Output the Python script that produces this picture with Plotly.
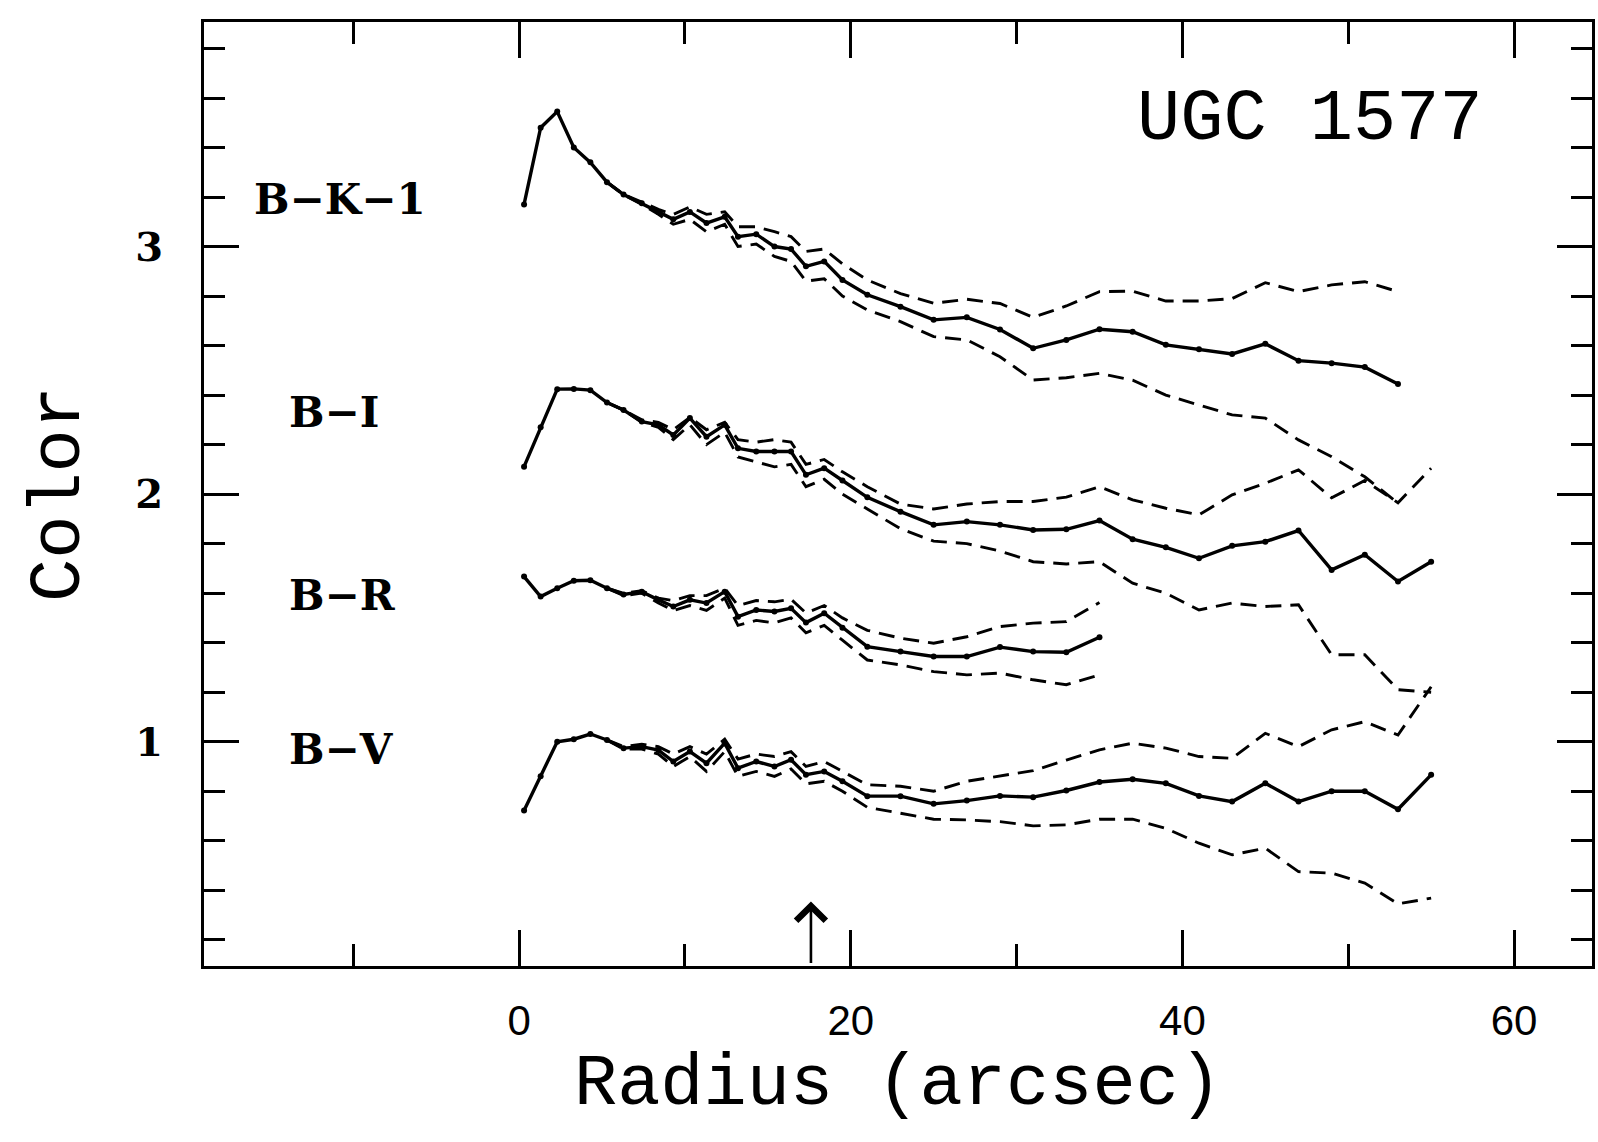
import plotly.graph_objects as go

# ---------------- data ----------------
radius = [0.3, 1.3, 2.3, 3.3, 4.3, 5.3, 6.3, 7.4, 8.4, 9.3, 10.3, 11.3, 12.4, 13.2,
          14.3, 15.4, 16.4, 17.3, 18.4, 19.5, 21, 23, 25, 27, 29, 31, 33, 35, 37,
          39, 41, 43, 45, 47, 49, 51, 53, 55]

bk1 = [3.17, 3.48, 3.545, 3.40, 3.34, 3.26, 3.21, 3.175, 3.14, 3.11, 3.14, 3.095, 3.12, 3.04,
       3.05, 3.00, 2.99, 2.92, 2.94, 2.865, 2.805, 2.757, 2.704, 2.714, 2.665, 2.589, 2.623, 2.666, 2.656,
       2.603, 2.585, 2.566, 2.607, 2.539, 2.529, 2.513, 2.445, None]
bk1_hi = [None, None, None, None, None, 3.26, 3.21, 3.18, 3.15, 3.13, 3.16, 3.13, 3.14, 3.08,
          3.08, 3.06, 3.04, 2.98, 2.99, 2.93, 2.865, 2.81, 2.771, 2.787, 2.77, 2.714, 2.76, 2.818, 2.82,
          2.78, 2.78, 2.79, 2.854, 2.818, 2.845, 2.858, 2.818, None]
bk1_lo = [None, None, None, None, None, 3.26, 3.21, 3.17, 3.13, 3.09, 3.11, 3.06, 3.09, 3.00,
          3.01, 2.96, 2.94, 2.86, 2.87, 2.80, 2.744, 2.697, 2.636, 2.623, 2.555, 2.461, 2.47, 2.488, 2.46,
          2.40, 2.36, 2.32, 2.307, 2.219, 2.151, 2.07, 1.963, None]

bi = [2.111, 2.27, 2.424, 2.425, 2.42, 2.37, 2.34, 2.293, 2.28, 2.239, 2.307, 2.232, 2.28, 2.185,
      2.172, 2.172, 2.172, 2.078, 2.105, 2.055, 1.987, 1.929, 1.876, 1.889, 1.876, 1.855, 1.858, 1.893, 1.818,
      1.785, 1.741, 1.791, 1.808, 1.853, 1.694, 1.755, 1.647, 1.727]
bi_hi = [None, None, None, None, None, 2.37, 2.34, 2.30, 2.29, 2.26, 2.31, 2.26, 2.29, 2.22,
         2.21, 2.22, 2.21, 2.12, 2.14, 2.09, 2.03, 1.96, 1.94, 1.96, 1.97, 1.97, 1.988, 2.03, 1.977,
         1.943, 1.916, 1.997, 2.044, 2.098, 1.985, 2.055, 1.965, 2.105]
bi_lo = [None, None, None, None, None, 2.37, 2.34, 2.29, 2.27, 2.22, 2.28, 2.20, 2.25, 2.15,
         2.13, 2.11, 2.12, 2.03, 2.06, 2.00, 1.94, 1.86, 1.81, 1.80, 1.77, 1.727, 1.718, 1.727, 1.64,
         1.60, 1.532, 1.56, 1.546, 1.553, 1.351, 1.351, 1.21, 1.20]

br = [1.667, 1.586, 1.62, 1.65, 1.652, 1.62, 1.595, 1.606, 1.573, 1.546, 1.573, 1.56, 1.606, 1.505,
      1.532, 1.526, 1.539, 1.481, 1.519, 1.46, 1.384, 1.364, 1.344, 1.344, 1.382, 1.364, 1.361, 1.422]
br_hi = [None, None, None, None, None, 1.62, 1.60, 1.61, 1.58, 1.57, 1.59, 1.59, 1.62, 1.55,
         1.57, 1.565, 1.575, 1.52, 1.55, 1.50, 1.45, 1.418, 1.398, 1.424, 1.465, 1.479, 1.485, 1.562]
br_lo = [None, None, None, None, None, 1.62, 1.59, 1.60, 1.56, 1.53, 1.55, 1.53, 1.58, 1.47,
         1.49, 1.48, 1.50, 1.44, 1.47, 1.41, 1.33, 1.31, 1.283, 1.27, 1.277, 1.25, 1.23, 1.27]

bv = [0.722, 0.86, 1.0, 1.01, 1.031, 1.007, 0.974, 0.98, 0.966, 0.92, 0.96, 0.913, 0.994, 0.893,
      0.92, 0.90, 0.927, 0.867, 0.88, 0.84, 0.78, 0.78, 0.749, 0.762, 0.781, 0.776, 0.803, 0.837, 0.848,
      0.832, 0.781, 0.758, 0.832, 0.758, 0.80, 0.80, 0.727, 0.866]
bv_hi = [None, None, None, None, None, 1.007, 0.98, 0.99, 0.98, 0.95, 0.98, 0.95, 1.01, 0.93,
         0.95, 0.94, 0.96, 0.90, 0.92, 0.88, 0.826, 0.82, 0.80, 0.84, 0.862, 0.883, 0.926, 0.967, 0.994,
         0.974, 0.94, 0.933, 1.034, 0.98, 1.048, 1.081, 1.027, 1.222]
bv_lo = [None, None, None, None, None, 1.007, 0.97, 0.97, 0.95, 0.90, 0.94, 0.88, 0.96, 0.86,
         0.88, 0.86, 0.89, 0.83, 0.84, 0.80, 0.735, 0.711, 0.687, 0.684, 0.677, 0.66, 0.664, 0.687, 0.687,
         0.65, 0.59, 0.543, 0.57, 0.475, 0.469, 0.429, 0.345, 0.368]

labels = ["B\u2212K\u22121", "B\u2212I", "B\u2212R", "B\u2212V"]
label_x = [-16.1, -14.0, -14.0, -14.0]
label_y = [3.19, 2.33, 1.59, 0.97]

title_text = "UGC 1577"
title_pos = (47.7, 3.51)
arrow_x = 17.6
arrow_y = (0.10, 0.355)

x_ticks = [0, 20, 40, 60]
y_ticks = [1, 2, 3]

# ---------------- figure ----------------
fig = go.Figure()
series = [(bk1, bk1_hi, bk1_lo), (bi, bi_hi, bi_lo), (br, br_hi, br_lo), (bv, bv_hi, bv_lo)]
for mid, hi, lo in series:
    n = len(mid)
    for band in (hi, lo):
        fig.add_trace(go.Scatter(x=radius[:n], y=band, mode="lines",
                                 line=dict(color="black", width=2.9, dash="16px,9px"),
                                 connectgaps=False, showlegend=False, hoverinfo="skip"))
    fig.add_trace(go.Scatter(x=radius[:n], y=mid, mode="lines+markers",
                             line=dict(color="black", width=3.4),
                             marker=dict(color="black", size=6),
                             showlegend=False))

for t, lx, ly in zip(labels, label_x, label_y):
    fig.add_annotation(x=lx, y=ly, text=t, showarrow=False, xanchor="left", yanchor="middle",
                       font=dict(family="DejaVu Serif", size=42, color="black", weight="bold"))

fig.add_annotation(x=title_pos[0], y=title_pos[1], text=title_text, showarrow=False,
                   xanchor="center", yanchor="middle",
                   font=dict(family="Liberation Mono", size=72, color="black"))

fig.add_annotation(x=arrow_x, y=arrow_y[1], ax=arrow_x, ay=arrow_y[0], axref="x", ayref="y",
                   xref="x", yref="y", text="", showarrow=True, arrowhead=4, arrowsize=2.2,
                   arrowwidth=2.6, arrowcolor="black")

axis_common = dict(showline=True, linecolor="black", linewidth=3, mirror="ticks",
                   ticks="inside", tickcolor="black", tickwidth=3, showgrid=False, zeroline=False)

fig.update_xaxes(range=[-19.0, 64.7], tickvals=x_ticks, ticklen=36,
                 tickfont=dict(family="Liberation Sans", size=42, color="black"),
                 minor=dict(dtick=10, tick0=0, ticks="inside", ticklen=22, tickwidth=3, tickcolor="black"),
                 title=dict(text="Radius (arcsec)", standoff=4,
                            font=dict(family="Liberation Mono", size=72, color="black")),
                 ticklabelstandoff=16,
                 **axis_common)
fig.update_yaxes(range=[0.094, 3.907], tickvals=y_ticks, ticklen=35,
                 tickfont=dict(family="DejaVu Serif", size=40, color="black", weight="bold"),
                 minor=dict(dtick=0.2, tick0=0, ticks="inside", ticklen=21, tickwidth=3, tickcolor="black"),
                 title=dict(text="Color", standoff=32,
                            font=dict(family="Liberation Mono", size=72, color="black")),
                 ticklabelstandoff=30,
                 **axis_common)

fig.update_layout(width=1598, height=1142, margin=dict(l=204, r=3, t=22, b=176),
                  paper_bgcolor="white", plot_bgcolor="white", showlegend=False)

fig.write_html("out.html")
